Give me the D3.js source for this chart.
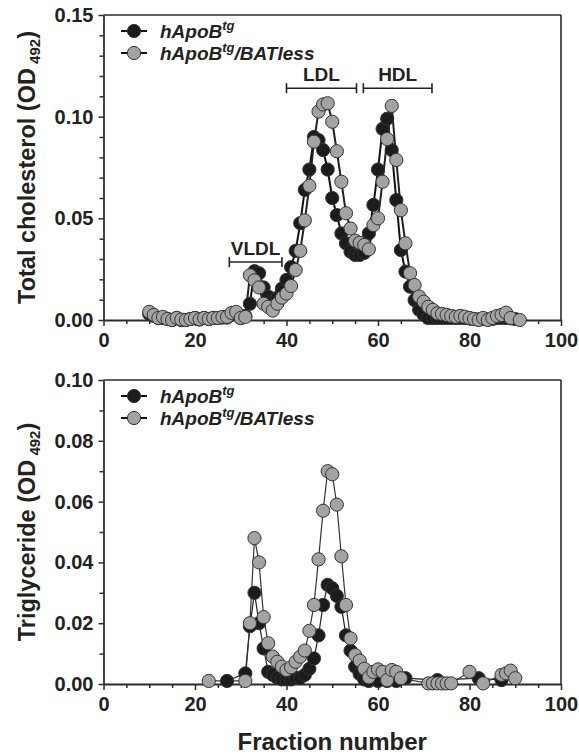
<!DOCTYPE html>
<html><head><meta charset="utf-8">
<script src="https://cdn.jsdelivr.net/npm/d3@7"></script>
<style>
html,body{margin:0;padding:0;background:#fff;}
text{font-family:Arial,"Liberation Sans",sans-serif;}
</style></head>
<body><svg id="c" width="579" height="755"></svg>
<script>
// ---------- DATA ----------
const seriesNames = ["hApoB", "hApoB"];
const xMajorTicks = [0, 20, 40, 60, 80, 100];
const tcTicks = [0, 0.05, 0.10, 0.15];
const tgTicks = [0, 0.02, 0.04, 0.06, 0.08, 0.10];

// Total cholesterol, hApoBtg (black)
const tcBlackFrac = [10,11,12,13,14,15,16,17,18,19,20,21,22,23,24,25,26,27,28,29,30,31,32,33,34,35,36,37,38,39,40,41,42,43,44,45,46,47,48,49,50,51,52,53,54,55,56,57,58,59,60,61,62,63,64,65,66,67,68,69,70,71,72,73,74,75,76,77,78,79,80,81,82,83,84,85,86,87,88,89,90];
const tcBlackVal  = [0.003,0.002,0.001,0.001,0.0005,0,0.001,0,0,0.0005,0.001,0.0003,0.001,0.0005,0.001,0.001,0.0012,0.0012,0.003,0.003,0.001,0.002,0.008,0.024,0.023,0.016,0.0115,0.009,0.011,0.0155,0.0197,0.026,0.034,0.0476,0.064,0.074,0.090,0.0885,0.0836,0.074,0.060,0.0516,0.0426,0.0377,0.0336,0.032,0.032,0.033,0.0426,0.0566,0.074,0.094,0.099,0.0836,0.059,0.0344,0.0238,0.0164,0.0098,0.005,0.0025,0.001,0.001,0.001,0.001,0.001,0.001,0.001,0.001,0.001,0.0008,0.0005,0.0003,0.0005,0.0003,0.0005,0.001,0.001,0.001,0.0008,0.0005];
// Total cholesterol, hApoBtg/BATless (grey)
const tcGreyFrac = [10,11,12,13,14,15,16,17,18,19,20,21,22,23,24,25,26,27,28,29,30,31,32,33,34,35,36,37,38,39,40,41,42,43,44,45,46,47,48,49,50,51,52,53,54,55,56,57,58,59,60,61,62,63,64,65,66,67,68,69,70,71,72,73,74,75,76,77,78,79,80,81,82,83,84,85,86,87,88,89,91];
const tcGreyVal  = [0.004,0.0025,0.001,0.0015,0.0005,0,0.001,0.0002,0,0.0005,0.001,0.0003,0.001,0.0005,0.001,0.001,0.0015,0.0015,0.0035,0.004,0.001,0.0015,0.022,0.0195,0.016,0.008,0.0065,0.0046,0.008,0.011,0.013,0.0167,0.0246,0.034,0.049,0.066,0.0877,0.1025,0.106,0.1066,0.0975,0.083,0.068,0.0525,0.045,0.039,0.038,0.0369,0.0348,0.0467,0.050,0.068,0.089,0.1053,0.0787,0.054,0.0377,0.023,0.0172,0.0115,0.009,0.0065,0.005,0.0033,0.003,0.0025,0.002,0.0016,0.002,0.0016,0.001,0.0005,0,0.001,0,0.001,0.002,0.0025,0.0036,0.001,0];

// Triglyceride, hApoBtg (black)
const tgBlackFrac = [27,31,32,33,34,35,36,37,38,39,40,41,42,43,44,45,46,47,48,49,50,51,52,53,54,55,56,57,58,60,62,64,66,73,82,87];
const tgBlackVal  = [0.001,0.0035,0.019,0.030,0.020,0.0117,0.004,0.003,0.002,0.0015,0.0015,0.0015,0.002,0.002,0.003,0.005,0.0084,0.016,0.026,0.0326,0.0315,0.029,0.0254,0.016,0.011,0.0057,0.0033,0.0015,0.001,0.001,0.001,0.001,0.0019,0.0013,0.0019,0.0013];
// Triglyceride, hApoBtg/BATless (grey)
const tgGreyFrac = [23,31,32,33,34,35,36,37,38,39,40,41,42,43,44,45,46,47,48,49,50,51,52,53,54,55,56,57,58,59,60,61,62,63,64,65,71,72,73,74,75,76,80,83,87,88,89,90];
const tgGreyVal  = [0.001,0.001,0.020,0.048,0.040,0.022,0.0134,0.009,0.0073,0.0057,0.0046,0.0055,0.0073,0.009,0.011,0.0175,0.026,0.041,0.057,0.070,0.069,0.059,0.042,0.026,0.015,0.0095,0.0077,0.005,0.0022,0.004,0.0048,0.004,0.0013,0.0046,0.004,0.0019,0.0002,0.0002,0.0002,0.0002,0.0002,0.0002,0.004,0.0002,0.003,0.0035,0.0044,0.0019];

// ---------- DRAW ----------
const svg = d3.select("#c");
const FONT = 'Arial,"Liberation Sans",sans-serif';
const axisColor = "#2b2b2b";
const blackFill = "#1c1c1c", greyFill = "#a3a3a3", markStroke = "#333";

function panel(cfg){
  const g = svg.append("g");
  const x = d3.scaleLinear().domain([0,100]).range([103.5,561]);
  const y = d3.scaleLinear().domain([0,cfg.ymax]).range([cfg.y0,cfg.y1]);

  g.append("line").attr("x1",x(0)).attr("x2",x(100)).attr("y1",y(cfg.ymax)).attr("y2",y(cfg.ymax))
    .attr("stroke",axisColor).attr("stroke-width",1.6);
  g.append("line").attr("x1",x(100)).attr("x2",x(100)).attr("y1",y(0)).attr("y2",y(cfg.ymax))
    .attr("stroke",axisColor).attr("stroke-width",1.6);

  const xMinor = d3.range(0,101,5).filter(v=>v%20!==0);
  g.append("g").attr("transform",`translate(0,${y(0)})`)
    .call(d3.axisBottom(x).tickValues(xMinor).tickSize(4).tickFormat(""))
    .call(a=>a.select(".domain").remove());
  const yMinor = d3.range(0, Math.round(cfg.ymax/0.01)+1).map(i=>+(i*0.01).toFixed(2)).filter(v=>!cfg.yticks.some(t=>Math.abs(t-v)<1e-9));
  g.append("g").attr("transform",`translate(${x(0)},0)`)
    .call(d3.axisLeft(y).tickValues(yMinor).tickSize(4).tickFormat(""))
    .call(a=>a.select(".domain").remove());

  const xa = g.append("g").attr("transform",`translate(0,${y(0)})`)
    .call(d3.axisBottom(x).tickValues(xMajorTicks).tickSize(6).tickPadding(7).tickSizeOuter(0).tickFormat(d3.format("d")));
  const ya = g.append("g").attr("transform",`translate(${x(0)},0)`)
    .call(d3.axisLeft(y).tickValues(cfg.yticks).tickSize(5).tickPadding(5).tickSizeOuter(0).tickFormat(d3.format(".2f")));
  [xa,ya].forEach(a=>{
    a.select(".domain").attr("stroke",axisColor).attr("stroke-width",1.8);
    a.selectAll(".tick text").attr("font-family",FONT).attr("font-weight","bold").attr("font-size",20).attr("fill","#222");
  });
  g.selectAll(".tick line").attr("stroke",axisColor).attr("stroke-width",1.5);

  const t = g.append("text").attr("transform",`translate(35,${(y(0)+y(cfg.ymax))/2}) rotate(-90)`)
    .attr("text-anchor","middle").attr("font-family",FONT).attr("font-weight","bold").attr("font-size",23.5).attr("fill","#222");
  t.append("tspan").text(cfg.title + " (OD");
  t.append("tspan").attr("font-size",15).attr("dy",5).text(" 492");
  t.append("tspan").attr("dy",-5).text(")");

  const line = d3.line().x(d=>x(d[0])).y(d=>y(d[1]));
  cfg.series.forEach(s=>{
    const pts = s.frac.map((f,i)=>[f,s.val[i]]);
    g.append("path").datum(pts).attr("d",line).attr("fill","none").attr("stroke",s.lineColor).attr("stroke-width",cfg.lw);
  });
  cfg.series.forEach(s=>{
    const pts = s.frac.map((f,i)=>[f,s.val[i]]);
    g.append("g").selectAll("circle").data(pts).join("circle")
      .attr("cx",d=>x(d[0])).attr("cy",d=>y(d[1])).attr("r",6.6)
      .attr("fill",s.fill).attr("stroke",markStroke).attr("stroke-width",1);
  });

  const lg = g.append("g");
  const labels = [[blackFill,false],[greyFill,true]];
  labels.forEach((L,i)=>{
    const ly = cfg.legY + i*22;
    lg.append("line").attr("x1",121).attr("x2",147).attr("y1",ly).attr("y2",ly).attr("stroke","#111").attr("stroke-width",2);
    lg.append("circle").attr("cx",134).attr("cy",ly).attr("r",6.6).attr("fill",L[0]).attr("stroke",markStroke).attr("stroke-width",1);
    const tx = lg.append("text").attr("x",160).attr("y",ly+6.5).attr("font-family",FONT).attr("font-weight","bold")
      .attr("font-style","italic").attr("font-size",19).attr("fill","#222");
    tx.append("tspan").text(seriesNames[i]);
    tx.append("tspan").attr("font-size",13).attr("dy",-8).text("tg");
    if(L[1]){ tx.append("tspan").attr("dy",8).text("/BATless"); }
  });
  return {g,x,y};
}

const topP = panel({ymax:0.15, y0:320, y1:15, yticks:tcTicks, title:"Total cholesterol", lw:2,
  legY:31,
  series:[{frac:tcBlackFrac,val:tcBlackVal,fill:blackFill,lineColor:"#111"},
          {frac:tcGreyFrac,val:tcGreyVal,fill:greyFill,lineColor:"#222"}]});
const botP = panel({ymax:0.10, y0:684, y1:380, yticks:tgTicks, title:"Triglyceride", lw:1.2,
  legY:396,
  series:[{frac:tgBlackFrac,val:tgBlackVal,fill:blackFill,lineColor:"#222"},
          {frac:tgGreyFrac,val:tgGreyVal,fill:greyFill,lineColor:"#333"}]});

const brackets = [{name:"VLDL",from:27.5,to:39,level:0.0285},{name:"LDL",from:40,to:55.3,level:0.114},{name:"HDL",from:56.8,to:71.8,level:0.114}];
brackets.forEach(b=>{
  const x=topP.x, y=topP.y, g=topP.g;
  const yy=y(b.level);
  g.append("line").attr("x1",x(b.from)).attr("x2",x(b.to)).attr("y1",yy).attr("y2",yy).attr("stroke","#222").attr("stroke-width",1.6);
  [b.from,b.to].forEach(v=>g.append("line").attr("x1",x(v)).attr("x2",x(v)).attr("y1",yy-5).attr("y2",yy+5).attr("stroke","#222").attr("stroke-width",1.6));
  g.append("text").attr("x",(x(b.from)+x(b.to))/2).attr("y",yy-7).attr("text-anchor","middle")
    .attr("font-family",FONT).attr("font-weight","bold").attr("font-size",19).attr("fill","#222").text(b.name);
});

svg.append("text").attr("x",botP.x(50)).attr("y",750).attr("text-anchor","middle").attr("font-family",FONT)
  .attr("font-weight","bold").attr("font-size",24).attr("fill","#222").text("Fraction number");
</script>
</body></html>
